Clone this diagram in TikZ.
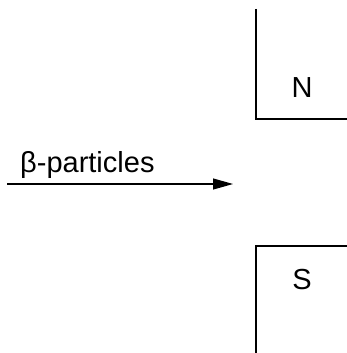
\documentclass[tikz,border=0pt]{standalone}
\usepackage{fontspec}
\setmainfont{Liberation Sans}
\usetikzlibrary{positioning,arrows.meta}
\tikzset{
  magnet/.style={line width=2pt},
  pole/.style={inner sep=0pt,anchor=base,font=\fontsize{29}{29}\selectfont},
  beam/.style={line width=1.2pt,-{Triangle[length=20pt,width=11pt]}}
}
\begin{document}
\begin{tikzpicture}[x=1pt,y=-1pt]
\useasboundingbox (0,0) rectangle (347,353);

% Magnets
\draw[magnet] (256,9) -- (256,119) -- (347,119);
\draw[magnet] (347,246) -- (256,246) -- (256,353);
\node (north) [pole] at (302,97) {N};
\node (south) [pole] at (302,289) {S};

% Beam
\coordinate (src) at (7,184);
\coordinate (dst) at (233,184);
\draw[beam] (src) -- (dst);
\node (label) [inner sep=0pt,anchor=base west,font=\fontsize{29}{29}\selectfont] at (20,172) {β-particles};

\end{tikzpicture}
\end{document}
